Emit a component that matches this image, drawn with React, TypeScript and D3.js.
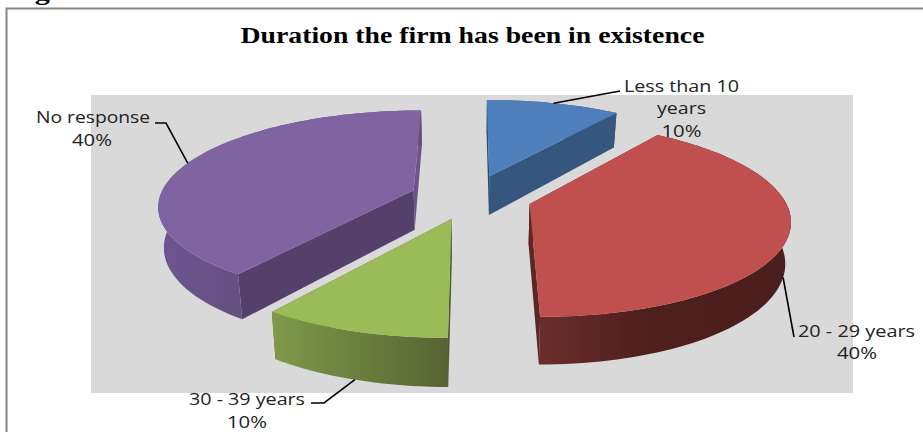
import React from "react";
import * as d3 from "d3";

// Share of firms by how long they have existed
const categories = ["Less than 10 years", "20 - 29 years", "30 - 39 years", "No response"];
const shares = [10, 40, 10, 40];
const percentLabels = ["10%", "40%", "10%", "40%"];
const topColors = ["#4f7fbb", "#c0504d", "#9bbb59", "#8064a2"];
const chartTitle = "Duration the firm has been in existence";
const captionText = "Figure 4.6: Duration of the firm has been in existence";

const WIDTH = 923;
const HEIGHT = 432;

// Perspective view of the pie plane
const CENTER_X = 471;
const CENTER_Y = 197;
const RADIUS_X = 254;
const RADIUS_Y = 93.6;
const PERSPECTIVE = 0.15;
const EXPLODE = 0.24;
const DEPTH = 40;
// The lower rim sits further from the eye, so it is drawn slightly narrower
const LOWER_RIM_SHRINK = 0.018;

type Pt = [number, number];

const project = (theta: number, r: number, mid: number, drop: number): Pt => {
  const u = r * Math.sin(theta) + EXPLODE * Math.sin(mid);
  const v = -r * Math.cos(theta) - EXPLODE * Math.cos(mid);
  const s = 1 / (1 - PERSPECTIVE * v);
  return [
    CENTER_X + RADIUS_X * u * s * (1 - LOWER_RIM_SHRINK * drop),
    CENTER_Y + RADIUS_Y * v * s + drop * DEPTH * s,
  ];
};

const pieLayout = d3.pie<number>().sort(null).startAngle(0).endAngle(2 * Math.PI);
const slices = pieLayout(shares);
const polygon = d3.line<Pt>().x((d) => d[0]).y((d) => d[1]).curve(d3.curveLinear);

const arcAngles = (a0: number, a1: number) => {
  const n = Math.ceil((a1 - a0) / 0.03);
  return d3.range(n + 1).map((i) => a0 + ((a1 - a0) * i) / n);
};

type Wall = { d: string; fill: string };

// Shading per slice: sliver wall, inner wall, and the fill of the curved wall
const wallStyles = [
  { first: "#2b4a6e", second: "#35577f", outer: "#35577f" },
  { first: "#4f201e", second: "#5c2725", outer: "url(#redSide)" },
  { first: "#4f5c2e", second: "#5a6834", outer: "url(#greenSide)" },
  { first: "#553f6b", second: "#6d548c", outer: "url(#purpleSide)" },
];

function sliceFaces(i: number) {
  const { startAngle: a0, endAngle: a1 } = slices[i];
  const mid = (a0 + a1) / 2;
  const angles = arcAngles(a0, a1);
  const topArc = angles.map((t) => project(t, 1, mid, 0));
  const lowArc = angles.map((t) => project(t, 1, mid, 1));
  const apexTop = project(0, 0, mid, 0);
  const apexLow = project(0, 0, mid, 1);
  const firstWall = [apexTop, topArc[0], lowArc[0], apexLow];
  const lastIdx = topArc.length - 1;
  const secondWall = [apexTop, topArc[lastIdx], lowArc[lastIdx], apexLow];
  const outerWall = [...topArc, ...[...lowArc].reverse()];
  const walls: Wall[] = [
    { d: polygon(firstWall) + "Z", fill: wallStyles[i].first },
    { d: polygon(secondWall) + "Z", fill: wallStyles[i].second },
    { d: polygon(outerWall) + "Z", fill: wallStyles[i].outer },
  ];
  return { walls, top: polygon([apexTop, ...topArc]) + "Z" };
}

// Leader lines run from the mid-angle of a slice's rim to an elbow beside the label
const leaders: { slice: number; drop: number; via: Pt[] }[] = [
  { slice: 0, drop: 0, via: [[620, 91]] },
  { slice: 1, drop: 1, via: [[794, 337]] },
  { slice: 2, drop: 1, via: [[324, 403], [311, 403]] },
  { slice: 3, drop: 0, via: [[166, 123], [155, 123]] },
];

const labelLines: { text: string; x: number; y: number; len: number }[] = [
  { text: "Less than 10", x: 681.5, y: 92, len: 115 },
  { text: "years", x: 681.5, y: 114, len: 49 },
  { text: percentLabels[0], x: 681.5, y: 137, len: 40 },
  { text: categories[1], x: 856.5, y: 337, len: 117 },
  { text: percentLabels[1], x: 857, y: 359, len: 40 },
  { text: categories[2], x: 247, y: 405, len: 116 },
  { text: percentLabels[2], x: 247, y: 428, len: 40 },
  { text: categories[3], x: 93, y: 123, len: 114 },
  { text: percentLabels[3], x: 92, y: 146, len: 40 },
];

const paintOrder = [0, 3, 2, 1];

export default function App() {
  return (
    <svg
      width={WIDTH}
      height={HEIGHT}
      style={{ position: "fixed", left: 0, top: 0, background: "#fff" }}
    >
      <defs>
        <linearGradient id="redSide" gradientUnits="userSpaceOnUse" x1={543} x2={793} y1={0} y2={0}>
          <stop offset="0" stopColor="#6a2d2b" />
          <stop offset="0.4" stopColor="#4e201e" />
          <stop offset="1" stopColor="#4a1e1c" />
        </linearGradient>
        <linearGradient id="greenSide" gradientUnits="userSpaceOnUse" x1={271} x2={447} y1={0} y2={0}>
          <stop offset="0" stopColor="#7f9a4a" />
          <stop offset="1" stopColor="#566432" />
        </linearGradient>
        <linearGradient id="purpleSide" gradientUnits="userSpaceOnUse" x1={158} x2={241} y1={0} y2={0}>
          <stop offset="0" stopColor="#6f5591" />
          <stop offset="1" stopColor="#645080" />
        </linearGradient>
      </defs>

      <text
        x={8}
        y={0}
        fontFamily="'Liberation Serif', serif"
        fontWeight="bold"
        fontSize={24}
        textLength={685}
        lengthAdjust="spacingAndGlyphs"
        fill="#000"
      >
        {captionText}
      </text>

      <path d="M6.5 432V8.5H923" fill="none" stroke="#868686" strokeWidth={2} />
      <rect x={91} y={95} width={762} height={298} fill="#d9d9d9" />

      {paintOrder.map((i) => {
        const faces = sliceFaces(i);
        return (
          <g key={categories[i]}>
            {faces.walls.map((w, k) => (
              <path key={k} d={w.d} fill={w.fill} />
            ))}
            <path d={faces.top} fill={topColors[i]} />
          </g>
        );
      })}

      {leaders.map((l) => {
        const s = slices[l.slice];
        const mid = (s.startAngle + s.endAngle) / 2;
        const start = project(mid, 1, mid, l.drop);
        return (
          <path
            key={l.slice}
            d={polygon([start, ...l.via]) ?? ""}
            fill="none"
            stroke="#000"
            strokeWidth={1.6}
          />
        );
      })}

      <text
        x={472.5}
        y={43}
        textAnchor="middle"
        fontFamily="'Liberation Serif', serif"
        fontWeight="bold"
        fontSize={23}
        textLength={464}
        lengthAdjust="spacingAndGlyphs"
        fill="#000"
      >
        {chartTitle}
      </text>

      {labelLines.map((t, i) => (
        <text
          key={i}
          x={t.x}
          y={t.y}
          textAnchor="middle"
          fontFamily="'Open Sans', sans-serif"
          fontSize={16}
          textLength={t.len}
          lengthAdjust="spacingAndGlyphs"
          fill="#222"
        >
          {t.text}
        </text>
      ))}
    </svg>
  );
}
